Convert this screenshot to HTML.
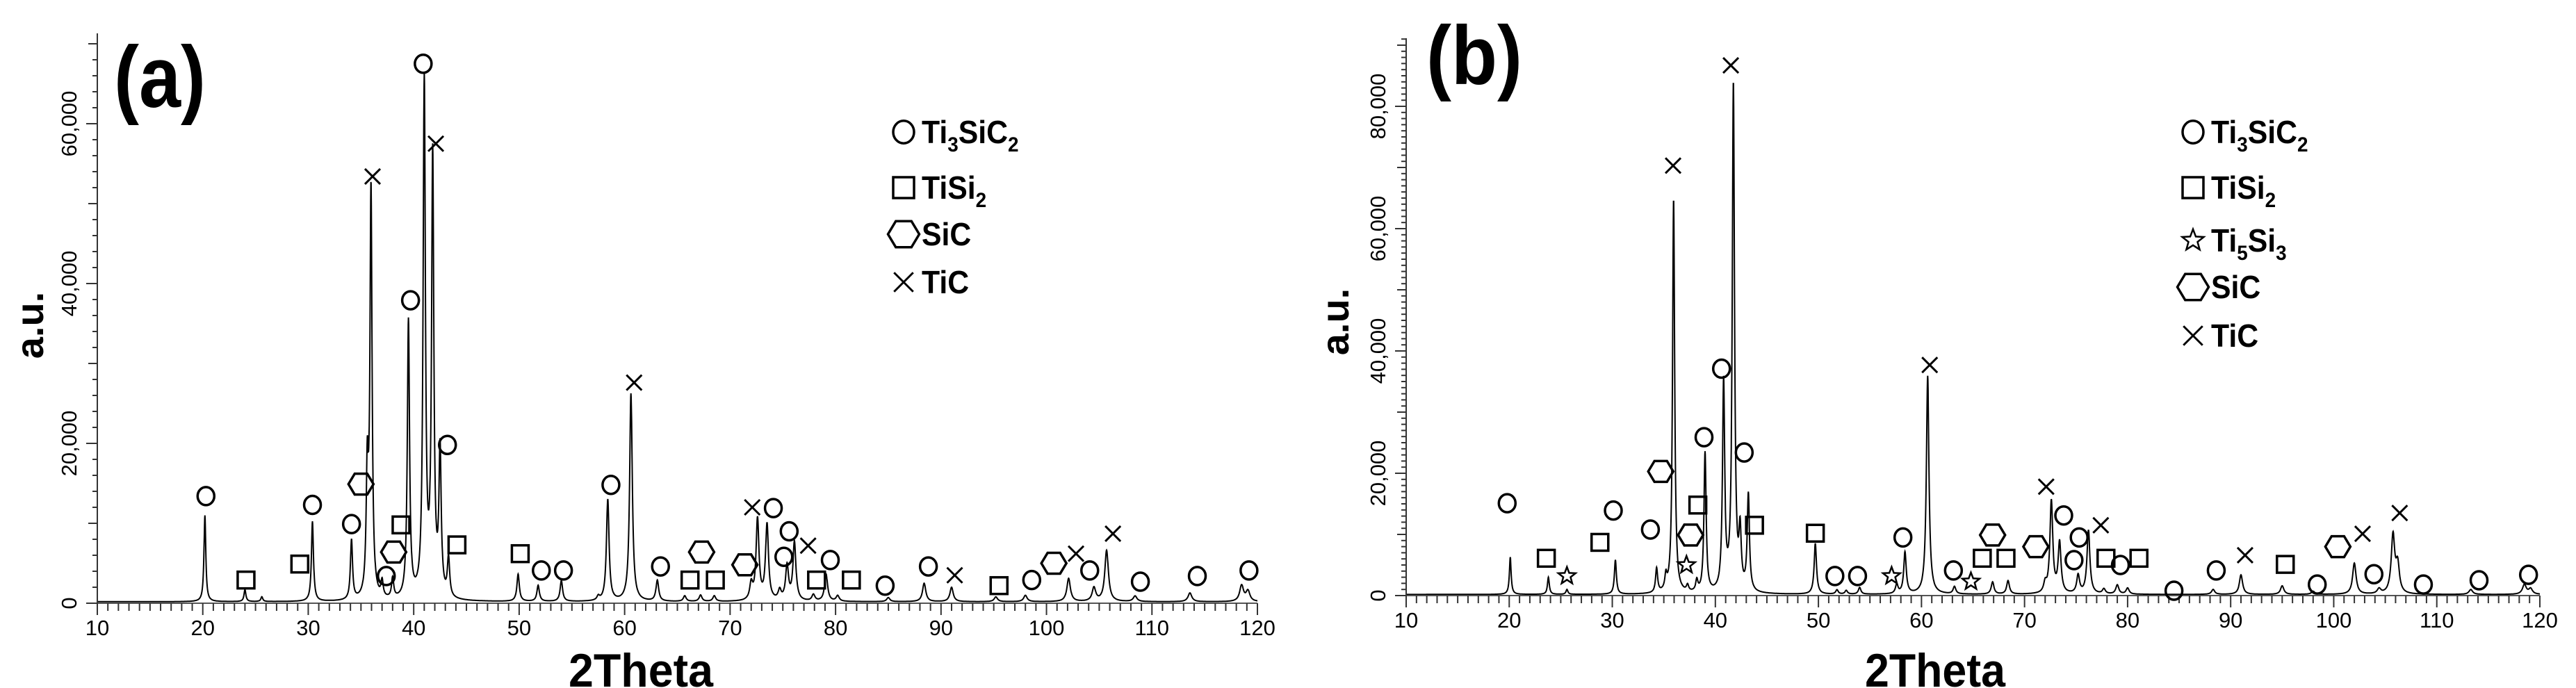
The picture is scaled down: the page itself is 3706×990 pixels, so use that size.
<!DOCTYPE html>
<html><head><meta charset="utf-8">
<style>
html,body{margin:0;padding:0;background:#fff;}
svg{display:block;}
text{font-family:"Liberation Sans",sans-serif;fill:#000;}
</style></head>
<body>
<svg id="chart" width="3706" height="990" viewBox="0 0 3706 990" xmlns="http://www.w3.org/2000/svg">
<rect width="3706" height="990" fill="#fff"/>
</svg>
<script>
// ---------- Panel (a) data ----------
const peaksA_pos = [20.2,24.0,25.6,30.4,34.1,35.6,35.95,37.0,38.0,39.5,41.0,41.8,42.5,43.3,49.9,51.8,54.0,57.5,58.4,60.6,63.1,65.7,67.2,68.5,72.0,72.6,73.5,74.7,75.4,76.1,77.9,79.1,80.2,85.0,88.4,91.0,95.2,98.0,102.1,104.5,105.7,108.4,113.6,118.5,119.1];
const peaksA_int = [10800,1500,600,10000,7500,15000,51000,2000,2500,34800,64500,55000,18000,4800,3400,2000,2600,500,12700,26000,2600,700,800,700,2000,10200,9500,1200,4300,7300,800,3400,700,500,2300,1800,600,800,2900,1700,6400,700,1100,2000,1300];
// ---------- Panel (b) data ----------
const peaksB_pos = [20.1,23.8,25.6,30.3,34.3,35.2,35.95,37.3,38.2,39.0,40.8,41.75,42.4,43.2,49.7,51.8,52.7,54.0,57.6,58.4,60.6,63.2,66.9,68.4,72.0,72.6,73.4,75.2,76.2,77.7,79.0,80.0,88.3,91.0,95.0,98.0,102.0,104.4,105.75,106.2,113.3,118.5,119.1];
const peaksB_int = [6100,2800,800,5600,4000,2300,64500,1000,1800,22900,34000,82900,9000,15800,8300,700,600,1100,1500,6800,35700,1200,2000,2200,1500,15100,8300,3000,10400,800,1500,1000,800,3200,1400,500,5100,800,9500,4500,800,1600,900];
// ---------- Markers (a) ----------
const markA_type = ['O','S','S','O','O','H','O','H','S','X','O','O','X','O','S','S','O','O','O','X','O','S','H','S','H','X','O','O','O','X','S','O','S','O','O','X','S','O','H','X','O','X','O','O','O'];
const markA_x = [20.3,24.1,29.2,30.4,34.1,35.0,37.4,38.1,38.8,36.1,39.7,40.9,42.1,43.2,44.1,50.1,52.1,54.2,58.7,60.9,63.4,66.2,67.3,68.6,71.4,72.1,74.1,75.1,75.6,77.4,78.2,79.5,81.5,84.7,88.8,91.3,95.5,98.6,100.7,102.8,104.1,106.3,108.9,114.3,119.2];
const markA_y = [13400,2900,4900,12300,9900,14900,3400,6400,9800,53400,37900,67500,57500,19800,7300,6200,4100,4100,14800,27600,4600,2900,6400,2900,4800,12000,11900,5800,9000,7200,2900,5400,2900,2200,4600,3500,2200,2900,5000,6200,4100,8700,2700,3400,4100];
// ---------- Markers (b) ----------
const markB_type = ['O','S','T','S','O','O','H','X','T','H','S','O','O','X','O','S','S','O','O','T','O','X','O','T','S','H','S','H','X','O','O','O','X','S','O','S','O','O','X','S','O','H','X','O','X','O','O','O'];
const markB_x = [19.8,23.6,25.6,28.8,30.1,33.7,34.7,35.9,37.2,37.6,38.3,38.9,40.6,41.5,42.8,43.8,49.7,51.6,53.8,57.1,58.2,60.8,63.1,64.8,65.9,66.9,68.2,71.1,72.1,73.8,74.8,75.3,77.4,77.9,79.3,81.1,84.5,88.6,91.4,95.3,98.4,100.4,102.8,103.9,106.4,108.7,114.1,118.9];
const markB_y = [15100,6100,3200,8700,13900,10800,20300,70300,5000,9900,14800,25900,37100,86700,23400,11500,10200,3200,3200,3200,9500,37700,4100,2300,6100,9900,6100,8000,17800,13100,5800,9500,11500,6100,5000,6100,800,4100,6600,5100,1800,8000,10100,3500,13500,1800,2500,3400];
// ---------- Axis ticks ----------
const xTickLabels = [10,20,30,40,50,60,70,80,90,100,110,120];
const yTicksA = [0,20000,40000,60000];
const yTicksB = [0,20000,40000,60000,80000];
const legendA = [['O','Ti','3','SiC','2'],['S','TiSi','2','',''],['H','SiC','','',''],['X','TiC','','','']];
const legendB = [['O','Ti','3','SiC','2'],['S','TiSi','2','',''],['T','Ti','5','Si','3'],['H','SiC','','',''],['X','TiC','','','']];

const NS='http://www.w3.org/2000/svg';
const svg=document.getElementById('chart');
function mk(tag,attrs,parent){const e=document.createElementNS(NS,tag);for(const k in attrs)e.setAttribute(k,attrs[k]);(parent||svg).appendChild(e);return e;}

function marker(g,type,cx,cy,s){
  let e;
  if(type==='O'){e=mk('ellipse',{cx:cx,cy:cy,rx:12*s,ry:13*s,fill:'none',stroke:'#000','stroke-width':3.5},g);}
  else if(type==='S'){e=mk('rect',{x:cx-12*s,y:cy-12*s,width:24*s,height:24*s,fill:'none',stroke:'#000','stroke-width':3.5},g);}
  else if(type==='H'){const w=18*s,h=15*s;e=mk('polygon',{points:`${cx-w},${cy} ${cx-w/2},${cy-h} ${cx+w/2},${cy-h} ${cx+w},${cy} ${cx+w/2},${cy+h} ${cx-w/2},${cy+h}`,fill:'none',stroke:'#000','stroke-width':3.5},g);}
  else if(type==='X'){const d=11*s;e=mk('path',{d:`M${cx-d},${cy-d}L${cx+d},${cy+d}M${cx+d},${cy-d}L${cx-d},${cy+d}`,fill:'none',stroke:'#000','stroke-width':3},g);}
  else {let p=[];for(let i=0;i<10;i++){const r=(i%2?5.5:13)*s,a=-Math.PI/2+i*Math.PI/5;p.push((cx+r*Math.cos(a)).toFixed(1)+','+(cy+r*Math.sin(a)).toFixed(1));}
    e=mk('polygon',{points:p.join(' '),fill:'none',stroke:'#000','stroke-width':2.5},g);}
  return e;
}

function drawPanel(cfg){
  const g=mk('g',{});
  
  
  const X=v=>cfg.x0+(v-10)*(cfg.x1-cfg.x0)/110;
  const Y=v=>cfg.y0-v*cfg.ppu;
  let d='';
  for(let t=10;t<=120.0001;t+=0.02){
    let v=180;
    for(let i=0;i<cfg.pos.length;i++){const w=0.09+0.0012*(cfg.pos[i]-10);const z=(t-cfg.pos[i])/w;v+=cfg.int[i]/(1+z*z);}
    d+=(d?'L':'M')+X(t).toFixed(1)+','+Y(v).toFixed(1);
  }
  const line=mk('path',{d:d,fill:'none',stroke:'#000','stroke-width':2},g);
  
  
  const ax=mk('g',{},g);
  
  
  mk('line',{x1:cfg.x0-6,y1:cfg.y0,x2:cfg.x1,y2:cfg.y0,stroke:'#555','stroke-width':2},ax);
  for(let t=10;t<=120;t++){const major=t%10===0;mk('line',{x1:X(t),y1:cfg.y0,x2:X(t),y2:cfg.y0+(major?17:11),stroke:'#333','stroke-width':2},ax);}
  xTickLabels.forEach(v=>{const tx=mk('text',{x:X(v),y:cfg.y0+46,'font-size':31,'text-anchor':'middle'},ax);tx.textContent=v;
    
    });
  const ay=mk('g',{},g);
  
  
  mk('line',{x1:cfg.x0,y1:cfg.y0,x2:cfg.x0,y2:cfg.top,stroke:'#333','stroke-width':2},ay);
  for(let v=0;Y(v)>=cfg.top;v+=cfg.minor){const maj=v%20000===0,mid=v%10000===0;mk('line',{x1:cfg.x0-(maj?16:mid?13:7),y1:Y(v),x2:cfg.x0,y2:Y(v),stroke:'#333','stroke-width':2},ay);}
  cfg.yt.forEach(v=>{const yy=Y(v);const tx=mk('text',{x:0,y:0,'font-size':31,'text-anchor':'middle',transform:`translate(${cfg.x0-30},${yy}) rotate(-90)`},ay);
    tx.textContent=v.toLocaleString('en-US');
    
    });
  const yl=mk('text',{x:0,y:0,'font-size':56,'font-weight':'bold','text-anchor':'middle',transform:`translate(${cfg.ylx},${cfg.yly}) rotate(-90)`},g);
  yl.textContent='a.u.';
  
  
  const xl=mk('text',{x:cfg.xtx,y:988,'font-size':68,'font-weight':'bold',textLength:cfg.xtw,lengthAdjust:'spacingAndGlyphs'},g);
  xl.textContent='2Theta';
  
  
  const pl=mk('text',{x:cfg.plx,y:cfg.ply,'font-size':cfg.pls,'font-weight':'bold',textLength:cfg.plw,lengthAdjust:'spacingAndGlyphs'},g);
  pl.textContent=cfg.label;
  
  
  for(let i=0;i<cfg.mt.length;i++){
    const m=marker(g,cfg.mt[i],X(cfg.mx[i]),Y(cfg.my[i]),1);
    
    
  }
  const lg=mk('g',{},g);
  
  
  cfg.leg.forEach((e,i)=>{
    const yy=cfg.legY[i];
    const ent=mk('g',{},lg);
    
    
    marker(ent,e[0],cfg.legX,yy,1.25);
    const tx0=cfg.legX+26;
    const t=mk('text',{x:tx0,y:yy+16,'font-size':46,'font-weight':'bold',transform:`translate(${tx0},0) scale(0.93,1) translate(${-tx0},0)`},ent);
    const a=mk('tspan',{},t);a.textContent=e[1];
    if(e[2]){const s=mk('tspan',{'font-size':30,dy:12},t);s.textContent=e[2];}
    if(e[3]){const s=mk('tspan',{dy:-12},t);s.textContent=e[3];}
    if(e[4]){const s=mk('tspan',{'font-size':30,dy:12},t);s.textContent=e[4];}
  });
}

drawPanel({name:'panel-a',x0:140,x1:1809,y0:868,ppu:230/20000,top:48,minor:2000,yt:yTicksA,
  pos:peaksA_pos,int:peaksA_int,mt:markA_type,mx:markA_x,my:markA_y,
  ylx:62,yly:468,xtx:818,xtw:208,label:'(a)',plx:164,ply:154,pls:125,plw:132,
  leg:legendA,legX:1300,legY:[190,270,337,406]});
drawPanel({name:'panel-b',x0:2023,x1:3654,y0:857,ppu:176/20000,top:55,minor:1000,yt:yTicksB,
  pos:peaksB_pos,int:peaksB_int,mt:markB_type,mx:markB_x,my:markB_y,
  ylx:1940,yly:463,xtx:2683,xtw:202,label:'(b)',plx:2052,ply:121,pls:120,plw:138,
  leg:legendB,legX:3155,legY:[190,270,346,413,483]});
</script>
</body></html>
